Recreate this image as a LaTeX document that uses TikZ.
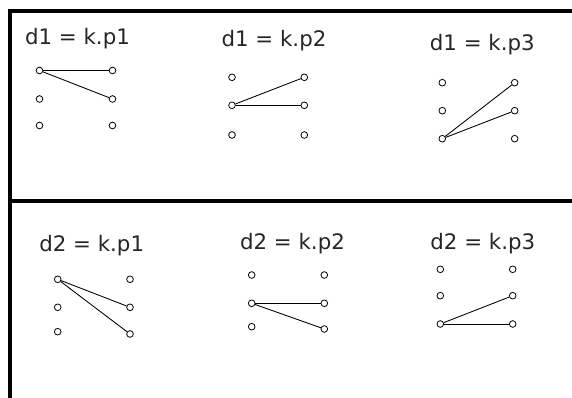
\documentclass[tikz,border=0pt]{standalone}
\usepackage{fontspec}
\setmainfont{DejaVu Sans}
\begin{document}
\begin{tikzpicture}[x=0.75pt,y=-0.75pt,
  dot/.style={circle,draw=black,fill=white,line width=0.6pt,minimum size=5pt,inner sep=0pt},
  lbl/.style={anchor=base,inner sep=0pt,text=black!85,font=\fontsize{16}{18}\selectfont},
  conn/.style={draw=black,line width=0.65pt},
  frame/.style={draw=black,line width=2.6pt}]
\useasboundingbox (0,0) rectangle (572,398);
% frame
\coordinate (tl) at (10,11);
\coordinate (tr) at (572,11);
\coordinate (ml) at (10,201);
\coordinate (mr) at (572,201);
\coordinate (bl) at (10,398);
\draw[frame] (tr) -- (tl) -- (bl);
\draw[frame] (ml) -- (mr);
% panel 1
\node[lbl] (t1) at (77.5,45) {d1 = k.p1};
\node[dot] (a1) at (39.5,70.5) {};
\node[dot] (a2) at (39.5,99) {};
\node[dot] (a3) at (39.5,125.5) {};
\node[dot] (b1) at (112.5,70.5) {};
\node[dot] (b2) at (112.5,99) {};
\node[dot] (b3) at (112.5,125.5) {};
\draw[conn] (a1) -- (b1);
\draw[conn] (a1) -- (b2);
% panel 2
\node[lbl] (t2) at (274,46.5) {d1 = k.p2};
\node[dot] (c1) at (232,77.3) {};
\node[dot] (c2) at (232,105.3) {};
\node[dot] (c3) at (232,135) {};
\node[dot] (d1) at (304.3,77.3) {};
\node[dot] (d2) at (304.3,105.3) {};
\node[dot] (d3) at (304.3,135) {};
\draw[conn] (c2) -- (d1);
\draw[conn] (c2) -- (d2);
% panel 3
\node[lbl] (t3) at (482.3,51) {d1 = k.p3};
\node[dot] (e1) at (442.3,82.7) {};
\node[dot] (e2) at (442.3,110.7) {};
\node[dot] (e3) at (442.3,138.7) {};
\node[dot] (f1) at (514.7,82.7) {};
\node[dot] (f2) at (514.7,110.7) {};
\node[dot] (f3) at (514.7,138.7) {};
\draw[conn] (e3) -- (f1);
\draw[conn] (e3) -- (f2);
% panel 4
\node[lbl] (t4) at (91.7,251.5) {d2 = k.p1};
\node[dot] (g1) at (57.7,279.3) {};
\node[dot] (g2) at (57.7,307.3) {};
\node[dot] (g3) at (57.7,331.7) {};
\node[dot] (h1) at (130,279.3) {};
\node[dot] (h2) at (130,307.3) {};
\node[dot] (h3) at (130,334) {};
\draw[conn] (g1) -- (h2);
\draw[conn] (g1) -- (h3);
% panel 5
\node[lbl] (t5) at (292.5,249.3) {d2 = k.p2};
\node[dot] (i1) at (251.7,275) {};
\node[dot] (i2) at (251.7,303.3) {};
\node[dot] (i3) at (251.7,326.7) {};
\node[dot] (j1) at (324.3,275) {};
\node[dot] (j2) at (324.3,303.3) {};
\node[dot] (j3) at (324.3,329) {};
\draw[conn] (i2) -- (j2);
\draw[conn] (i2) -- (j3);
% panel 6
\node[lbl] (t6) at (482.8,249.3) {d2 = k.p3};
\node[dot] (k1) at (440.3,269.3) {};
\node[dot] (k2) at (440.3,295.7) {};
\node[dot] (k3) at (440.3,324) {};
\node[dot] (l1) at (512.7,269.3) {};
\node[dot] (l2) at (512.7,295.7) {};
\node[dot] (l3) at (512.7,324) {};
\draw[conn] (k3) -- (l2);
\draw[conn] (k3) -- (l3);
\end{tikzpicture}
\end{document}
